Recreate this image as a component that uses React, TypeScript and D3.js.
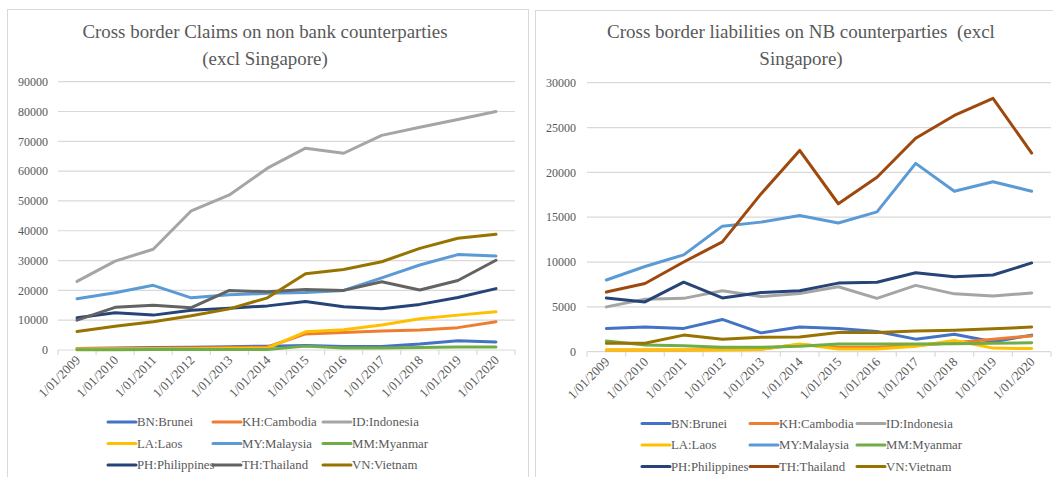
import React from "react";
import * as d3 from "d3";

const categories = ["1/01/2009","1/01/2010","1/01/2011","1/01/2012","1/01/2013","1/01/2014","1/01/2015","1/01/2016","1/01/2017","1/01/2018","1/01/2019","1/01/2020"];
const seriesNames = ["BN:Brunei","KH:Cambodia","ID:Indonesia","LA:Laos","MY:Malaysia","MM:Myanmar","PH:Philippines","TH:Thailand","VN:Vietnam"];

// Left chart: Cross border claims on non bank counterparties
const claimsBN = [500, 700, 800, 900, 1100, 1300, 1500, 1200, 1200, 2000, 3100, 2700];
const claimsKH = [400, 500, 600, 700, 800, 1000, 5400, 5900, 6400, 6700, 7500, 9500];
const claimsID = [23000, 29800, 33800, 46700, 52000, 61000, 67700, 66000, 72000, 74700, 77300, 80000];
const claimsLA = [300, 350, 400, 450, 500, 600, 6100, 6800, 8400, 10500, 11700, 12800];
const claimsMY = [17200, 19200, 21700, 17500, 18500, 19000, 19300, 20000, 24200, 28500, 32000, 31500];
const claimsMM = [100, 100, 150, 150, 200, 200, 1300, 700, 700, 800, 1000, 1000];
const claimsPH = [10800, 12500, 11700, 13300, 14000, 14800, 16300, 14500, 13800, 15300, 17600, 20600];
const claimsTH = [10000, 14300, 15000, 14200, 20000, 19500, 20300, 20000, 22900, 20100, 23300, 30100];
const claimsVN = [6200, 8000, 9500, 11500, 13800, 17500, 25600, 27000, 29600, 34100, 37500, 38800];

// Right chart: Cross border liabilities on NB counterparties
const liabBN = [2600, 2750, 2600, 3600, 2100, 2750, 2600, 2250, 1400, 1950, 1100, 1850];
const liabKH = [200, 200, 200, 250, 300, 800, 500, 500, 700, 1000, 1400, 1750];
const liabID = [5000, 5850, 5950, 6800, 6150, 6500, 7250, 5950, 7400, 6450, 6200, 6550];
const liabLA = [200, 200, 200, 200, 250, 850, 300, 300, 600, 1250, 400, 350];
const liabMY = [8000, 9500, 10800, 14000, 14450, 15200, 14350, 15600, 21000, 17900, 18950, 17900];
const liabMM = [1200, 750, 650, 500, 500, 600, 850, 850, 850, 900, 950, 1000];
const liabPH = [6000, 5550, 7750, 6000, 6600, 6800, 7650, 7750, 8800, 8350, 8550, 9900];
const liabTH = [6650, 7600, 10000, 12250, 17600, 22450, 16500, 19450, 23800, 26350, 28250, 22150];
const liabVN = [950, 950, 1850, 1400, 1600, 1650, 2150, 2150, 2300, 2400, 2550, 2750];

const leftTicks = [0, 10000, 20000, 30000, 40000, 50000, 60000, 70000, 80000, 90000];
const rightTicks = [0, 5000, 10000, 15000, 20000, 25000, 30000];

const colorsLeft = ["#4472C4", "#ED7D31", "#A5A5A5", "#FFC000", "#5B9BD5", "#70AD47", "#264478", "#636363", "#997300"];
const colorsRight = ["#4472C4", "#ED7D31", "#A5A5A5", "#FFC000", "#5B9BD5", "#70AD47", "#264478", "#9E480E", "#997300"];

const FONT = "'Liberation Serif', 'Times New Roman', serif";
const TEXT = "#595959";
const GRID = "#D9D9D9";

type ChartProps = {
  panel: { x: number; y: number; w: number; h: number };
  titleLines: string[];
  titleX: number;
  titleY: number[];
  titleSize: number;
  plot: { x0: number; x1: number; y0: number; y1: number };
  ticks: number[];
  maxV: number;
  data: number[][];
  colors: string[];
  legendCols: number[];
  legendRows: number[];
  labelRight: number;
};

function Chart(p: ChartProps) {
  const xBand = d3.scaleBand<string>().domain(categories).range([p.plot.x0, p.plot.x1]);
  const xPoint = d3.scalePoint<string>().domain(categories).range([p.plot.x0, p.plot.x1]).padding(0.5);
  const y = d3.scaleLinear().domain([0, p.maxV]).range([p.plot.y0, p.plot.y1]);
  const line = d3
    .line<number>()
    .x((_, i) => xPoint(categories[i]) as number)
    .y((v) => y(v));
  const boundaries = categories.map((c) => xBand(c) as number).concat([p.plot.x1]);
  return (
    <g>
      <rect x={p.panel.x} y={p.panel.y} width={p.panel.w} height={p.panel.h} fill="#fff" stroke={GRID} strokeWidth={1} />
      {p.titleLines.map((t, i) => (
        <text
          key={i}
          x={p.titleX}
          y={p.titleY[i]}
          textAnchor="middle"
          fontFamily={FONT}
          fontSize={p.titleSize}
          fill={TEXT}
          style={{ whiteSpace: "pre" }}
        >
          {t}
        </text>
      ))}
      {p.ticks.map((t) => (
        <g key={t}>
          <line x1={p.plot.x0} x2={p.plot.x1} y1={y(t)} y2={y(t)} stroke={GRID} strokeWidth={1.2} />
          <text x={p.labelRight} y={y(t)} dy="0.35em" textAnchor="end" fontFamily={FONT} fontSize={12} fill={TEXT}>
            {t}
          </text>
        </g>
      ))}
      {boundaries.map((b, i) => (
        <line key={i} x1={b} x2={b} y1={p.plot.y0} y2={p.plot.y0 + 5} stroke={GRID} strokeWidth={1.2} />
      ))}
      {categories.map((c) => {
        const cx = xPoint(c) as number;
        const ty = p.plot.y0 + 11;
        return (
          <text
            key={c}
            x={cx + 4}
            y={ty}
            textAnchor="end"
            transform={`rotate(-45, ${cx + 4}, ${ty})`}
            fontFamily={FONT}
            fontSize={13}
            fill={TEXT}
          >
            {c}
          </text>
        );
      })}
      {p.data.map((s, i) => (
        <path key={i} d={line(s) || ""} fill="none" stroke={p.colors[i]} strokeWidth={3} strokeLinejoin="round" strokeLinecap="round" />
      ))}
      {seriesNames.map((n, i) => {
        const lx = p.legendCols[i % 3];
        const ly = p.legendRows[Math.floor(i / 3)];
        return (
          <g key={n}>
            <line x1={lx} x2={lx + 28} y1={ly} y2={ly} stroke={p.colors[i]} strokeWidth={3} strokeLinecap="round" />
            <text x={lx + 29} y={ly} dy="0.35em" fontFamily={FONT} fontSize={12.8} fill={TEXT}>
              {n}
            </text>
          </g>
        );
      })}
    </g>
  );
}

export default function App() {
  const leftData = [claimsBN, claimsKH, claimsID, claimsLA, claimsMY, claimsMM, claimsPH, claimsTH, claimsVN];
  const rightData = [liabBN, liabKH, liabID, liabLA, liabMY, liabMM, liabPH, liabTH, liabVN];
  return (
    <svg
      width={1053}
      height={477}
      style={{ position: "absolute", left: 0, top: 0, background: "#fff" }}
    >
      <rect x={0} y={0} width={1053} height={477} fill="#fff" />
      <Chart
        panel={{ x: 7.5, y: 9.5, w: 521, h: 475 }}
        titleLines={["Cross border Claims on non bank counterparties", "(excl Singapore)"]}
        titleX={265}
        titleY={[38, 65]}
        titleSize={18.9}
        plot={{ x0: 58, x1: 515, y0: 350, y1: 81.7 }}
        ticks={leftTicks}
        maxV={90000}
        data={leftData}
        colors={colorsLeft}
        legendCols={[108, 213, 323]}
        legendRows={[422, 443.5, 465]}
        labelRight={48}
      />
      <Chart
        panel={{ x: 535.5, y: 10.5, w: 530, h: 475 }}
        titleLines={["Cross border liabilities on NB counterparties  (excl", "Singapore)"]}
        titleX={801}
        titleY={[38, 65]}
        titleSize={19}
        plot={{ x0: 587, x1: 1051, y0: 351.7, y1: 82.7 }}
        ticks={rightTicks}
        maxV={30000}
        data={rightData}
        colors={colorsRight}
        legendCols={[642, 750, 857]}
        legendRows={[423.5, 445, 466.5]}
        labelRight={576}
      />
    </svg>
  );
}
